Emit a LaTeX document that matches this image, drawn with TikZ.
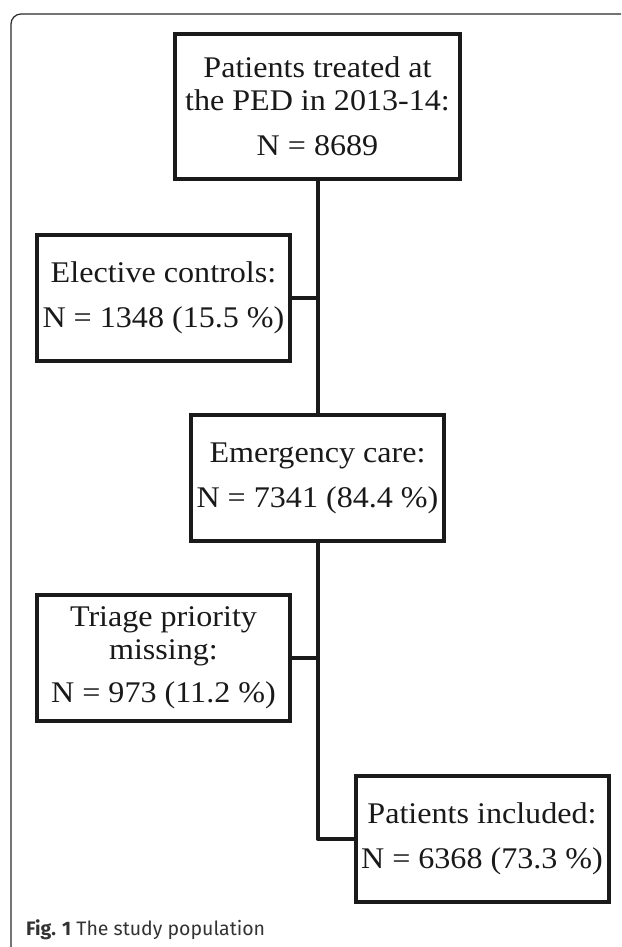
\documentclass[tikz,border=0pt]{standalone}
\usepackage{fontspec}
\setmainfont{Liberation Serif}[FakeStretch=1.07]
\newfontfamily\captionfont{Fira Sans}
\definecolor{boxline}{HTML}{1A1A1A}
\definecolor{frameline}{HTML}{2A2A2A}
\tikzset{
  flowbox/.style={draw=boxline, line width=4pt, fill=white, align=center,
    minimum width=253pt, minimum height=126pt, inner sep=0pt,
    text=black!90, font=\fontsize{30}{33}\selectfont},
  flowline/.style={draw=boxline, line width=4pt, line join=round},
}
\begin{document}
\begin{tikzpicture}[x=1pt, y=-1pt]
  \useasboundingbox (0,0) rectangle (621,947);
  \clip (0,0) rectangle (621,947);
  % outer frame, running off the page
  \draw[frameline, line width=1.2pt, rounded corners=10pt] (11,14) rectangle (660,980);
  \path (317.5,106.5) coordinate (P)
    (163.5,297.5) coordinate (E)
    (317.5,478) coordinate (C)
    (163.5,658) coordinate (T)
    (482,838.5) coordinate (I);
  \node[flowbox, minimum width=285pt, minimum height=145pt] (ped) at (P)
    {Patients treated at\\the PED in 2013-14:\\[12pt]N = 8689};
  \node[flowbox] (elective) at (E) {Elective controls:\\[12pt]N = 1348 (15.5 \%)};
  \node[flowbox] (emergency) at (C) {Emergency care:\\[12pt]N = 7341 (84.4 \%)};
  \node[flowbox] (triage) at (T) {Triage priority\\missing:\\[10pt]N = 973 (11.2 \%)};
  \node[flowbox] (included) at (I) {Patients included:\\[12pt]N = 6368 (73.3 \%)};
  \draw[flowline] (ped.south) -- (emergency.north);
  \draw[flowline] (elective.east) -- (elective.east -| ped.south);
  \draw[flowline] (emergency.south) -- (included.west -| emergency.south) -- (included.west);
  \draw[flowline] (triage.east) -- (triage.east -| emergency.south);
  \node[anchor=base west, inner sep=0pt, text=black!80,
    font=\captionfont\fontsize{19.5}{21}\selectfont] (caption) at (26,935)
    {\textbf{Fig. 1} The study population};
\end{tikzpicture}
\end{document}
